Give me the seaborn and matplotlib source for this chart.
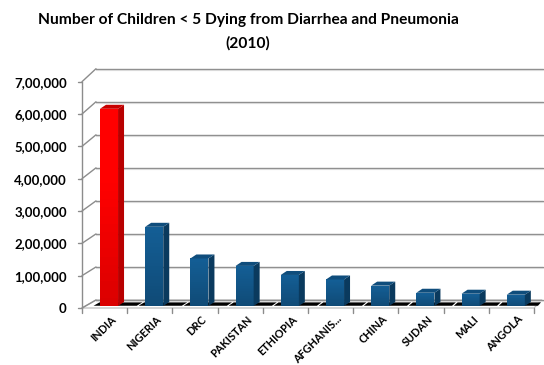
import numpy as np
import pandas as pd
import matplotlib
matplotlib.use("Agg")
import matplotlib.pyplot as plt
import seaborn as sns
from matplotlib.patches import Polygon
from matplotlib.lines import Line2D
from matplotlib.transforms import IdentityTransform, ScaledTranslation

# Under-five deaths from diarrhoea and pneumonia, 2010
countries = ["INDIA", "NIGERIA", "DRC", "PAKISTAN", "ETHIOPIA",
             "AFGHANIS...", "CHINA", "SUDAN", "MALI", "ANGOLA"]
deaths = [610000, 245000, 147000, 124000, 96000, 82000, 63000, 41000, 38000, 35000]
y_ticks = [0, 100000, 200000, 300000, 400000, 500000, 600000, 700000]
y_tick_labels = ["0", "1,00,000", "2,00,000", "3,00,000", "4,00,000",
                 "5,00,000", "6,00,000", "7,00,000"]

RED, RED_SIDE, RED_TOP = "#FF0000", "#B80000", "#C80000"
BLUE, BLUE_SIDE, BLUE_TOP = "#12578A", "#0A3A5E", "#0F4D7C"
GRID = "#8C8C8C"

sns.set_theme(style="white")
plt.rcParams["font.family"] = ["Lato", "DejaVu Sans"]
plt.rcParams["text.color"] = "black"
plt.rcParams["xtick.color"] = "black"
plt.rcParams["ytick.color"] = "black"

W, H, DPI = 544, 365, 100
fig = plt.figure(figsize=(W / DPI, H / DPI), dpi=DPI)
# front plane of the pseudo-3D plot area, in figure pixels
left_px, right_px, bot_px, top_px = 82, 534, 308, 81.7
ax = fig.add_axes([left_px / W, (H - bot_px) / H,
                   (right_px - left_px) / W, (bot_px - top_px) / H])

df = pd.DataFrame({"country": countries, "deaths": deaths})
palette = [RED] + [BLUE] * (len(countries) - 1)
sns.barplot(data=df, x="country", y="deaths", hue="country", palette=palette,
            width=0.4, saturation=1, legend=False, ax=ax, zorder=5)
ax.set_xlim(-0.5, len(countries) - 0.5)
ax.set_ylim(0, 700000)
ax.set_xlabel("")
ax.set_ylabel("")
for s in ax.spines.values():
    s.set_visible(False)
ax.set_facecolor("none")
ax.grid(False)


def depth_offset(px, py, d):
    """Pixel shift toward the back wall for depth fraction d."""
    fx = (px - left_px) / (right_px - left_px)
    fy = (bot_px - py) / (bot_px - top_px)
    dx = 14 - 6 * fx
    dy = 8 + 5 * fy          # upward in display coords
    return dx * d, dy * d


def disp(x, y):
    return ax.transData.transform((x, y))


def add_line(pts, **kw):
    xs, ys = zip(*pts)
    fig.add_artist(Line2D(xs, ys, transform=IdentityTransform(), **kw))


def add_poly(pts, **kw):
    fig.add_artist(Polygon(pts, closed=True, transform=IdentityTransform(), **kw))


# floor outline
x0d, y0d = disp(-0.5, 0)
x1d, y1d = disp(len(countries) - 0.5, 0)
ox0 = depth_offset(left_px, bot_px, 1)
ox1 = depth_offset(right_px, bot_px, 1)
add_poly([(x0d, y0d), (x1d, y1d), (x1d + ox1[0], y1d + ox1[1]),
          (x0d + ox0[0], y0d + ox0[1])], facecolor="white",
         edgecolor="#BDBDBD", lw=0.9, zorder=1)

# back-wall gridlines and left-wall diagonals
for t in y_ticks:
    fx, fy = disp(-0.5, t)
    img_y = H - fy
    dx, dy = depth_offset(left_px, img_y, 1)
    bx, by = fx + dx, fy + dy
    add_line([(bx, by), (W - 1, by)], color=GRID, lw=1.0, zorder=2)
    add_line([(bx, by - 1.2), (W - 1, by - 1.2)], color="#D9D9D9", lw=0.8, zorder=2)
    add_line([(fx, fy), (bx, by)], color=GRID, lw=1.0, zorder=2)
    # tick mark on the front axis
    add_line([(fx - 4, fy), (fx, fy)], color=GRID, lw=1.0, zorder=2)

# front-left vertical axis line
fxb, fyb = disp(-0.5, 0)
fxt, fyt = disp(-0.5, 700000)
add_line([(fxb, fyb), (fxt, fyt)], color=GRID, lw=1.0, zorder=2)

# category tick marks below the floor
for i in range(len(countries) + 1):
    tx, ty = disp(i - 0.5, 0)
    add_line([(tx, ty), (tx, ty - 5)], color=GRID, lw=1.0, zorder=2)

# dark floor strips under each category
for i in range(len(countries)):
    xa, ya = disp(i - 0.5 + 0.17, 0)
    xb, yb = disp(i + 0.5 + 0.13, 0)
    d_front, d_back = 0.28, 0.70
    pa = depth_offset(xa, H - ya, d_front)
    pb = depth_offset(xb, H - yb, d_front)
    qa = depth_offset(xa, H - ya, d_back)
    qb = depth_offset(xb, H - yb, d_back)
    add_poly([(xa + pa[0], ya + pa[1]), (min(xb + pb[0], x1d + 4), yb + pb[1]),
              (min(xb + qb[0], x1d + ox1[0] - 1), yb + qb[1]), (xa + qa[0], ya + qa[1])],
             facecolor="black", edgecolor="none", zorder=3)

# push the bar fronts into the floor and add their side and top faces
shift_x, shift_y = 4.4, 2.0
side_w, top_h = 6.0, 4.0
for patch, val in zip(ax.patches, deaths):
    x = patch.get_x()
    w = patch.get_width()
    bl = disp(x, 0) + (shift_x, shift_y)
    br = disp(x + w, 0) + (shift_x, shift_y)
    tr = disp(x + w, val) + (shift_x, shift_y)
    tl = disp(x, val) + (shift_x, shift_y)
    is_red = val == max(deaths)
    side_c = RED_SIDE if is_red else BLUE_SIDE
    top_c = RED_TOP if is_red else BLUE_TOP
    add_poly([br, tr, tr + (side_w, top_h), br + (side_w, top_h)],
             facecolor=side_c, edgecolor="none", zorder=6)
    add_poly([tl, tr, tr + (side_w, top_h), tl + (side_w, top_h)],
             facecolor=top_c, edgecolor="none", zorder=6)
    # soft vertical shading on the front face
    x_lo, y_lo = bl
    x_hi, y_hi = tr
    n = 24
    base = np.array(matplotlib.colors.to_rgb(RED if is_red else BLUE))
    for k in range(n):
        f = k / (n - 1)
        c = np.clip(base * (0.86 + 0.22 * f), 0, 1)
        ya_ = y_lo + (y_hi - y_lo) * k / n
        yb_ = y_lo + (y_hi - y_lo) * (k + 1) / n
        add_poly([(x_lo, ya_), (x_hi, ya_), (x_hi, yb_), (x_lo, yb_)],
                 facecolor=c, edgecolor="none", zorder=5.5)
    patch.set_visible(False)

# tick labels
ax.set_yticks(y_ticks)
ax.set_yticklabels(y_tick_labels, fontsize=9.5, fontweight="bold", color="black")
ax.tick_params(axis="y", length=0, pad=11)
ax.set_xticks(range(len(countries)))
ax.set_xticklabels(countries, rotation=45, ha="right", va="top",
                   rotation_mode="anchor", fontsize=7.8, fontweight="bold",
                   color="black")
ax.tick_params(axis="x", length=0, pad=4)
for lab in ax.get_xticklabels():
    lab.set_transform(lab.get_transform() + ScaledTranslation(6 / DPI, 0, fig.dpi_scale_trans))

fig.text(248 / W, 1 - 20 / H, "Number of Children < 5 Dying from Diarrhea and Pneumonia",
         ha="center", va="center", fontsize=11.2, fontweight="bold", color="black")
fig.text(248 / W, 1 - 43 / H, "(2010)", ha="center", va="center",
         fontsize=11.2, fontweight="bold", color="black")

fig.savefig("out.png", dpi=DPI, facecolor="white")
